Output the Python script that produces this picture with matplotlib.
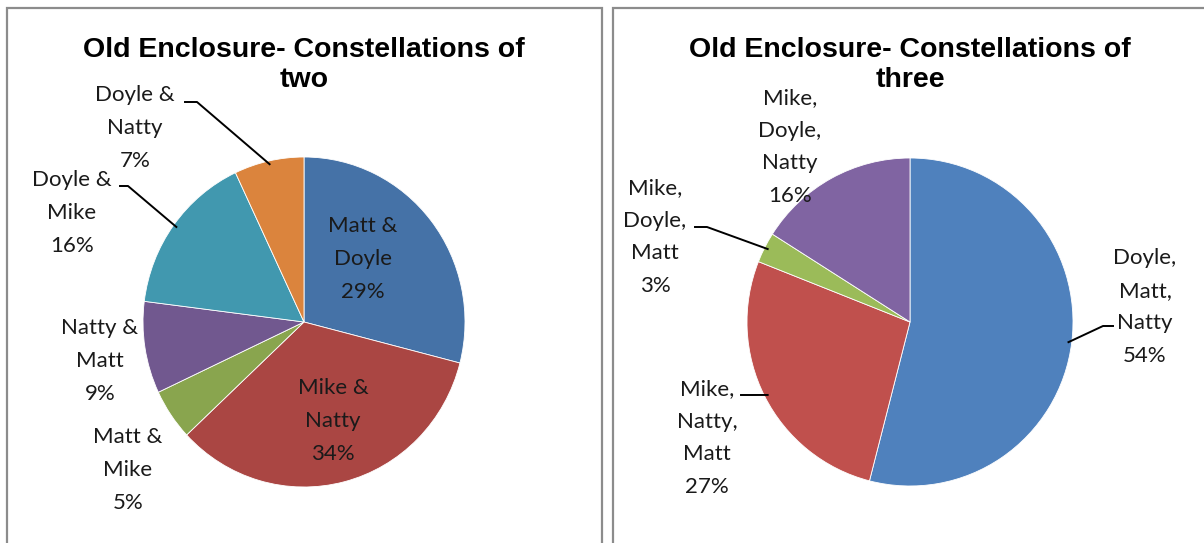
import matplotlib.pyplot as plt
import numpy as np
from matplotlib.patches import Rectangle

W, H = 1204, 543

# data
two_labels = ['Matt &\nDoyle', 'Mike &\nNatty', 'Matt &\nMike', 'Natty &\nMatt',
              'Doyle &\nMike', 'Doyle &\nNatty']
two_values = [29, 34, 5, 9, 16, 7]
two_colors = ['#4572A7', '#AA4643', '#89A54E', '#71588F', '#4198AF', '#DB843D']

three_labels = ['Doyle,\nMatt,\nNatty', 'Mike,\nNatty,\nMatt', 'Mike,\nDoyle,\nMatt',
                'Mike,\nDoyle,\nNatty']
three_values = [54, 27, 3, 16]
three_colors = ['#4F81BD', '#C0504D', '#9BBB59', '#8064A2']

# layout (pixel positions, y from top)
two_text_pos = [(363, 259), (333, 421), (128, 470), (100, 361), (72, 213), (135, 128)]
two_leaders = [None, None, None, None, [(120, 186), (128, 186)], [(185, 102), (197, 102)]]
three_text_pos = [(1145, 307), (707, 438), (655, 237), (790, 147)]
three_leaders = [[(1113, 326), (1103, 326)], [(741, 395), (752, 395)],
                 [(695, 227), (707, 227)], None]

label_font = dict(family=['Lato', 'DejaVu Sans'], fontsize=16, linespacing=1.8)
title_font = dict(family=['Liberation Sans', 'DejaVu Sans'], fontsize=20.5, weight='bold')

fig = plt.figure(figsize=(W / 100, H / 100), dpi=100)


def draw_pie(values, labels, colors, text_pos, leaders, cx, cy, rx, ry, title):
    half = 260
    ax = fig.add_axes([(cx - half) / W, (H - cy - half) / H, 2 * half / W, 2 * half / H])
    ax.pie(values, colors=colors, startangle=90, counterclock=False,
           wedgeprops=dict(linewidth=0.6, edgecolor='white'))
    ax.set_aspect('auto')
    ax.set_xlim(-half / rx, half / rx)
    ax.set_ylim(-half / ry, half / ry)
    ax.axis('off')

    def to_data(p):
        return (p[0] - cx) / rx, (cy - p[1]) / ry

    total = float(sum(values))
    cum = np.cumsum(values) - np.array(values) / 2.0
    for v, lab, pos, lead, c in zip(values, labels, text_pos, leaders, cum):
        x, y = to_data(pos)
        ax.text(x, y, f'{lab}\n{v}%', ha='center', va='center', color='#1a1a1a',
                clip_on=False, **label_font)
        if lead is not None:
            theta = np.deg2rad(90 - 360 * c / total)
            pts = [to_data(p) for p in lead] + [(0.98 * np.cos(theta), 0.98 * np.sin(theta))]
            xs, ys = zip(*pts)
            ax.plot(xs, ys, color='black', lw=1.4, clip_on=False)

    fig.text(cx / W, 1 - 65 / H, title, ha='center', va='center', linespacing=1.22,
             **title_font)


draw_pie(two_values, two_labels, two_colors, two_text_pos, two_leaders,
         304, 322, 161, 165, 'Old Enclosure- Constellations of\ntwo')
draw_pie(three_values, three_labels, three_colors, three_text_pos, three_leaders,
         910, 322, 163, 164, 'Old Enclosure- Constellations of\nthree')

# panel borders
for x0, x1 in [(7, 602), (613, 1230)]:
    fig.patches.append(Rectangle((x0 / W, -0.1), (x1 - x0) / W, 0.1 + 1 - 8 / H,
                                 transform=fig.transFigure, fill=False,
                                 edgecolor='#8c8c8c', lw=1.6))

fig.savefig('out.png', dpi=100)
